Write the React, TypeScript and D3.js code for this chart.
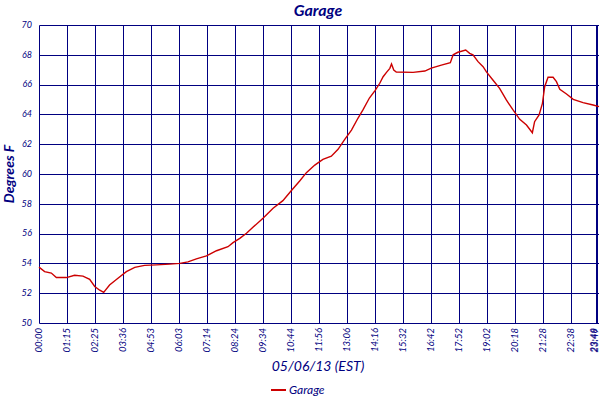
import * as d3 from "d3";

// sample position on the tick-index scale (one unit per labelled tick)
const positions = [
  0, 0.2, 0.44, 0.62, 0.98, 1.27, 1.57, 1.81, 1.99, 2.17, 2.31, 2.52, 2.82,
  3.12, 3.42, 3.77, 4.19, 4.67, 5.03, 5.32, 5.62, 5.98, 6.34, 6.75, 6.93, 7.17,
  7.41, 7.64, 8.0, 8.36, 8.71, 9.0, 9.31, 9.55, 9.85, 10.14, 10.44, 10.68,
  10.92, 11.16, 11.39, 11.57, 11.8, 12.0, 12.17, 12.29, 12.41, 12.53, 12.59,
  12.67, 12.76, 13.36, 13.78, 14.01, 14.37, 14.69, 14.79, 14.96, 15.24, 15.38,
  15.5, 15.68, 15.86, 15.98, 16.21, 16.45, 16.69, 16.93, 17.17, 17.41, 17.62,
  17.7, 17.86, 17.98, 18.06, 18.18, 18.36, 18.48, 18.6, 18.84, 19.08, 19.43,
  19.79, 20.0,
];

const temps = [
  53.75, 53.45, 53.35, 53.05, 53.05, 53.2, 53.15, 52.93, 52.45, 52.2, 52.05,
  52.55, 53.0, 53.45, 53.73, 53.87, 53.9, 53.95, 54.0, 54.1, 54.3, 54.5, 54.85,
  55.12, 55.39, 55.68, 56.02, 56.42, 57.03, 57.7, 58.21, 58.86, 59.53, 60.09,
  60.6, 60.98, 61.2, 61.66, 62.33, 62.95, 63.74, 64.3, 65.1, 65.6, 66.09, 66.53,
  66.82, 67.09, 67.38, 66.98, 66.85, 66.82, 66.91, 67.11, 67.31, 67.47, 68.0,
  68.17, 68.32, 68.1, 68.0, 67.54, 67.2, 66.85, 66.31, 65.75, 64.97, 64.3,
  63.67, 63.29, 62.77, 63.51, 63.96, 64.74, 65.86, 66.49, 66.49, 66.2, 65.68,
  65.37, 65.01, 64.79, 64.63, 64.52,
];

const timeLabels = [
  "00:00", "01:15", "02:25", "03:36", "04:53", "06:03", "07:14", "08:24",
  "09:34", "10:44", "11:56", "13:06", "14:16", "15:32", "16:42", "17:52",
  "19:02", "20:18", "21:28", "22:38", "23:48",
];
// the last sample sits right on top of the final tick
const lastLabel = "23:49";

const yTicks = [50, 52, 54, 56, 58, 60, 62, 64, 66, 68, 70];

const navy = "#000080";
const red = "#cc0000";
const font = "Lato, 'Open Sans', sans-serif";

export default function App() {
  const w = 600;
  const h = 400;
  const margin = { top: 25, right: 1, bottom: 77, left: 39 };

  const x = d3
    .scaleLinear()
    .domain([0, timeLabels.length - 1])
    .range([margin.left, w - margin.right]);
  const y = d3
    .scaleLinear()
    .domain([50, 70])
    .range([h - margin.bottom, margin.top]);

  // crisp 1px grid lines
  const px = (v: number) => Math.round(v) + 0.5;

  const points = positions.map((p, i) => ({ p, t: temps[i] }));
  const line = d3
    .line<{ p: number; t: number }>()
    .x((d) => x(d.p))
    .y((d) => y(d.t));

  const x0 = x.range()[0];
  const x1 = x.range()[1];
  const y0 = y.range()[0];
  const y1 = y.range()[1];
  const nLast = timeLabels.length - 1;

  return (
    <svg
      width={w}
      height={h}
      style={{ position: "absolute", left: 0, top: 0, background: "white" }}
    >
      <text
        x={318}
        y={16}
        textAnchor="middle"
        fill={navy}
        fontFamily={font}
        fontStyle="italic"
        fontWeight="bold"
        fontSize={16}
      >
        Garage
      </text>

      {/* grid */}
      {yTicks.map((t) => (
        <line
          key={"h" + t}
          x1={px(x0)}
          x2={x1}
          y1={px(y(t))}
          y2={px(y(t))}
          stroke={navy}
          strokeWidth={1}
        />
      ))}
      {timeLabels.map((_, i) => (
        <line
          key={"v" + i}
          x1={i === nLast ? x(i) - 2 : px(x(i))}
          x2={i === nLast ? x(i) - 2 : px(x(i))}
          y1={px(y0)}
          y2={px(y1)}
          stroke={navy}
          strokeWidth={i === nLast ? 2 : 1}
        />
      ))}

      {/* y tick labels */}
      {yTicks.map((t) => (
        <text
          key={"yl" + t}
          x={32}
          y={y(t)}
          dy="0.3em"
          textAnchor="end"
          fill={navy}
          fontFamily={font}
          fontStyle="italic"
          fontSize={9}
        >
          {t}
        </text>
      ))}

      {/* x tick labels */}
      {timeLabels.map((l, i) => (
        <text
          key={"xl" + i}
          transform={`translate(${i === nLast ? x(i) - 5 : x(i)},${y0 + 5}) rotate(-90)`}
          dy="0.35em"
          textAnchor="end"
          fill={navy}
          fontFamily={font}
          fontStyle="italic"
          fontSize={9.5}
        >
          {l}
        </text>
      ))}
      <text
        transform={`translate(${x(nLast) - 4.4},${y0 + 5}) rotate(-90)`}
        dy="0.35em"
        textAnchor="end"
        fill={navy}
        fontFamily={font}
        fontStyle="italic"
        fontSize={9.5}
      >
        {lastLabel}
      </text>

      <path d={line(points) ?? ""} fill="none" stroke={red} strokeWidth={1.4} />

      {/* axis titles */}
      <text
        transform={`translate(14,${(y0 + y1) / 2}) rotate(-90)`}
        textAnchor="middle"
        fill={navy}
        fontFamily={font}
        fontStyle="italic"
        fontWeight="bold"
        fontSize={14}
      >
        Degrees F
      </text>
      <text
        x={318}
        y={371}
        textAnchor="middle"
        fill={navy}
        fontFamily={font}
        fontStyle="italic"
        fontSize={14}
      >
        05/06/13 (EST)
      </text>

      {/* legend */}
      <line x1={271} x2={286} y1={390} y2={390} stroke={red} strokeWidth={2} />
      <text
        x={289}
        y={394}
        fill={navy}
        fontFamily={font}
        fontStyle="italic"
        fontSize={12}
      >
        Garage
      </text>
    </svg>
  );
}
